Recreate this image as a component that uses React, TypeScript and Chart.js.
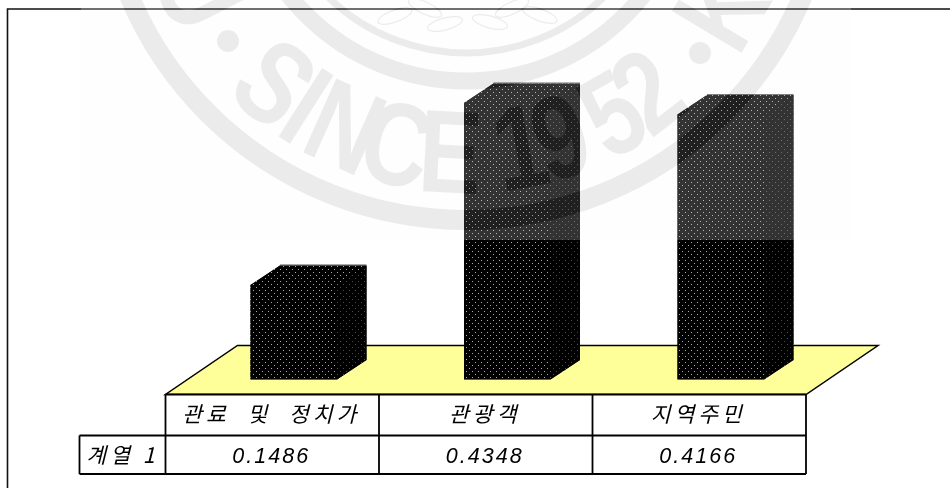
import React, { useEffect, useRef } from "react";
import { Chart, registerables } from "chart.js";

Chart.register(...registerables);

const categories = ["관료  및  정치가", "관광객", "지역주민"];
const seriesName = "계열 1";
const seriesValues = [0.1486, 0.4348, 0.4166];
const sealLetters = ["U", "S", "I", "N", "C", "E", "1", "9", "5", "2", "K"];
const sealAngles = [-63, -40, -32.5, -24, -13.5, -3, 10.5, 18.5, 29.5, 37.5, 59];

function dotPattern(dot: string) {
  const c = document.createElement("canvas");
  c.width = 6;
  c.height = 6;
  const g = c.getContext("2d")!;
  g.fillStyle = "#000";
  g.fillRect(0, 0, 6, 6);
  g.fillStyle = dot;
  g.fillRect(1, 2, 1, 1);
  g.fillRect(4, 5, 1, 1);
  return g.createPattern(c, "repeat")!;
}

const DX = 29.5;
const DY = -19.5;
const SHIFT = 21.5;

function sealLayer() {
  const c = document.createElement("canvas");
  c.width = 950;
  c.height = 488;
  const g = c.getContext("2d")!;
  const col = "#131313";
  const cx = 466, cy = -145;
  g.strokeStyle = col;
  g.fillStyle = col;
  [[365, 20], [226, 17], [198, 7]].forEach(([r, w]) => {
    g.lineWidth = w;
    g.beginPath();
    g.arc(cx, cy, r, 0, Math.PI * 2);
    g.stroke();
  });
  [[228, 41], [700, 53]].forEach(([x, y]) => {
    g.beginPath();
    g.arc(x, y, 11, 0, Math.PI * 2);
    g.fill();
  });
  sealLetters.forEach((ch, i) => {
    const a = (sealAngles[i] * Math.PI) / 180;
    const r = 296;
    g.save();
    g.translate(cx + r * Math.sin(a), cy + r * Math.cos(a));
    g.rotate(-a);
    g.scale(0.8, 1);
    g.font = 'bold 118px "Liberation Sans"';
    g.textAlign = "center";
    g.textBaseline = "alphabetic";
    g.fillText(ch, 0, 42);
    g.restore();
  });
  g.lineWidth = 1.2;
  [[395, 16, -20], [425, 8, 25], [445, 24, -15], [490, 22, 15], [512, 8, -25], [540, 15, 20]].forEach(([x, y, rot]) => {
    g.beginPath();
    g.ellipse(x, y, 18, 6, (rot * Math.PI) / 180, 0, Math.PI * 2);
    g.stroke();
  });
  return c;
}

const solid3d = {
  id: "solid3d",
  beforeDraw(chart: any) {
    const { ctx, width, height } = chart;
    ctx.save();
    ctx.fillStyle = "#fff";
    ctx.fillRect(0, 0, width, height);
    ctx.restore();
  },
  beforeDatasetsDraw(chart: any) {
    const { ctx, scales } = chart;
    const base = scales.y.getPixelForValue(0);
    const half = scales.x.getPixelForValue(1) - scales.x.getPixelForValue(0);
    const left = scales.x.getPixelForValue(0) - half / 2 - SHIFT;
    const right = left + half * 3;
    const top = base + 15;
    ctx.save();
    ctx.fillStyle = "#FFFF99";
    ctx.strokeStyle = "#000";
    ctx.lineWidth = 1.5;
    ctx.beginPath();
    ctx.moveTo(left, top);
    ctx.lineTo(right, top);
    ctx.lineTo(right + 72, top - 49);
    ctx.lineTo(left + 72, top - 49);
    ctx.closePath();
    ctx.fill();
    ctx.stroke();
    ctx.beginPath();
    ctx.moveTo(7.5, 488);
    ctx.lineTo(7.5, 9);
    ctx.lineTo(950, 9);
    ctx.lineWidth = 1.6;
    ctx.strokeStyle = "#111";
    ctx.stroke();

    const bars = chart.getDatasetMeta(0).data;
    const sidePat = dotPattern("#4a4a4a");
    const topPat = dotPattern("#a8a8a8");
    bars.forEach((b: any) => {
      const l = b.x - b.width / 2;
      const r = b.x + b.width / 2;
      // black backing so no seams show between the faces
      ctx.fillStyle = "#000";
      ctx.beginPath();
      ctx.moveTo(l, b.base);
      ctx.lineTo(l, b.y);
      ctx.lineTo(l + DX, b.y + DY);
      ctx.lineTo(r + DX, b.y + DY);
      ctx.lineTo(r + DX, b.base + DY);
      ctx.lineTo(r, b.base);
      ctx.closePath();
      ctx.fill();
      ctx.fillStyle = sidePat;
      ctx.beginPath();
      ctx.moveTo(r, b.base);
      ctx.lineTo(r + DX, b.base + DY);
      ctx.lineTo(r + DX, b.y + DY);
      ctx.lineTo(r, b.y);
      ctx.closePath();
      ctx.fill();
      ctx.fillStyle = topPat;
      ctx.beginPath();
      ctx.moveTo(l, b.y);
      ctx.lineTo(l + DX, b.y + DY);
      ctx.lineTo(r + DX, b.y + DY);
      ctx.lineTo(r, b.y);
      ctx.closePath();
      ctx.fill();
      ctx.strokeStyle = "#5a5a5a";
      ctx.lineWidth = 1;
      ctx.beginPath();
      ctx.moveTo(l + DX, b.y + DY - 0.5);
      ctx.lineTo(r + DX, b.y + DY - 0.5);
      ctx.stroke();
    });
    ctx.restore();
  },
  afterDraw(chart: any) {
    const { ctx, scales } = chart;
    const base = scales.y.getPixelForValue(0);
    const cat = scales.x.getPixelForValue(1) - scales.x.getPixelForValue(0);
    const x0 = scales.x.getPixelForValue(0) - cat / 2 - SHIFT;
    const y0 = base + 15;
    const y1 = y0 + 41;
    const y2 = y1 + 38.5;
    const lx = 79.5;
    ctx.save();
    ctx.fillStyle = "#fff";
    ctx.fillRect(x0, y0, cat * 3, y2 - y0);
    ctx.fillRect(lx, y1, x0 - lx, y2 - y1);
    ctx.strokeStyle = "#000";
    ctx.lineWidth = 1.8;
    ctx.beginPath();
    ctx.moveTo(x0, y0);
    ctx.lineTo(x0 + cat * 3, y0);
    ctx.moveTo(lx, y1);
    ctx.lineTo(x0 + cat * 3, y1);
    ctx.moveTo(lx, y2);
    ctx.lineTo(x0 + cat * 3, y2);
    ctx.moveTo(lx, y1);
    ctx.lineTo(lx, y2);
    for (let i = 0; i <= 3; i++) {
      ctx.moveTo(x0 + cat * i, y0);
      ctx.lineTo(x0 + cat * i, y2);
    }
    ctx.stroke();
    ctx.fillStyle = "#000";
    ctx.textAlign = "center";
    ctx.textBaseline = "middle";
    seriesValues.forEach((v, i) => {
      const cx = x0 + cat * (i + 0.5);
      ctx.letterSpacing = "4px";
      ctx.font = 'italic 21.5px "Noto Sans CJK KR"';
      ctx.fillText(categories[i], cx - 1, (y0 + y1) / 2 - 1);
      ctx.letterSpacing = "2px";
      ctx.font = 'italic 21.5px "Liberation Sans"';
      ctx.fillText(String(v), cx - 1, (y1 + y2) / 2 + 2);
    });
    ctx.letterSpacing = "4px";
    ctx.font = 'italic 21.5px "Noto Sans CJK KR"';
    ctx.fillText(seriesName, (lx + x0) / 2, (y1 + y2) / 2);
    ctx.letterSpacing = "0px";

    // lightened scan band and seal watermark
    const bx = 81, bw = 770, bh = 240;
    ctx.beginPath();
    ctx.rect(bx, 0, bw, bh);
    ctx.clip();
    ctx.fillStyle = "rgba(255,255,255,0.2)";
    ctx.fillRect(bx, 0, bw, bh);
    ctx.globalCompositeOperation = "difference";
    ctx.drawImage(sealLayer(), 0, 0);
    ctx.globalCompositeOperation = "multiply";
    ctx.fillStyle = "#fefefe";
    ctx.fillRect(bx, 0, bw, bh);
    ctx.restore();
  },
};

export default function App() {
  const ref = useRef<HTMLCanvasElement>(null);
  useEffect(() => {
    const chart = new Chart(ref.current!, {
      type: "bar",
      data: {
        labels: categories,
        datasets: [
          {
            label: seriesName,
            data: seriesValues,
            backgroundColor: dotPattern("#a8a8a8"),
            borderWidth: 0,
            barPercentage: 0.405,
            categoryPercentage: 1,
          },
        ],
      },
      options: {
        animation: false,
        responsive: false,
        layout: { padding: { left: 187, right: 122.5, top: 61.5, bottom: 108.5 } },
        plugins: { legend: { display: false }, tooltip: { enabled: false } },
        scales: {
          x: { display: false, grid: { display: false } },
          y: { display: false, min: 0, max: 0.5, grid: { display: false } },
        },
      },
      plugins: [solid3d],
    });
    return () => chart.destroy();
  }, []);
  return (
    <canvas
      ref={ref}
      width={950}
      height={488}
      style={{ position: "fixed", left: 0, top: 0, width: 950, height: 488, background: "#fff" }}
    />
  );
}
